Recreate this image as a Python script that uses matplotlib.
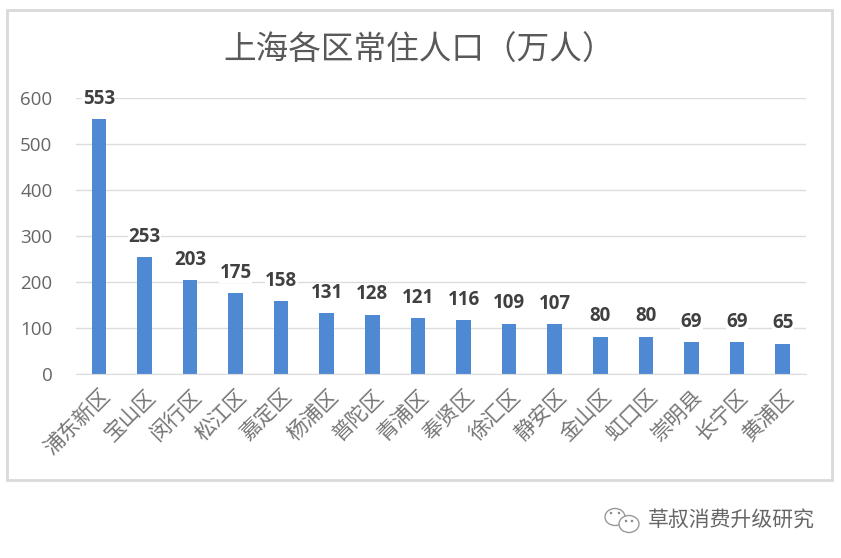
import matplotlib.pyplot as plt
from matplotlib.patches import Ellipse, Rectangle

plt.rcParams["font.family"] = ["Noto Sans CJK SC", "DejaVu Sans"]

W, H = 841, 558

districts = ["浦东新区", "宝山区", "闵行区", "松江区", "嘉定区", "杨浦区", "普陀区", "青浦区",
             "奉贤区", "徐汇区", "静安区", "金山区", "虹口区", "崇明县", "长宁区", "黄浦区"]
population = [553, 253, 203, 175, 158, 131, 128, 121, 116, 109, 107, 80, 80, 69, 69, 65]
y_ticks = [0, 100, 200, 300, 400, 500, 600]


def px_x(x):
    return x / W


def px_y(y):
    return 1 - y / H


def main():
    fig = plt.figure(figsize=(W / 100, H / 100), dpi=100)

    # chart frame, kept behind the axes
    fig.add_artist(Rectangle((px_x(6.5), px_y(480)), 825 / W, 470 / H, transform=fig.transFigure,
                             facecolor="white", edgecolor="#d9d9d9", linewidth=2, zorder=-1))

    ax = fig.add_axes([px_x(76), px_y(373.7), 729.5 / W, 276 / H])
    ax.patch.set_alpha(0)
    ax.bar(range(len(districts)), population, width=0.32, color="#5089d3", zorder=2)
    ax.set_xlim(-0.5, len(districts) - 0.5)
    ax.set_ylim(0, 600)
    ax.set_yticks(y_ticks)
    ax.set_yticklabels(y_ticks, family="Open Sans")
    ax.yaxis.grid(True, color="#dcdcdc", linewidth=1)
    ax.set_axisbelow(True)
    ax.tick_params(axis="y", length=0, pad=17, labelsize=13.5, labelcolor="#666666")
    ax.tick_params(axis="x", length=0, pad=8)
    for side in ["top", "right", "left"]:
        ax.spines[side].set_visible(False)
    ax.spines["bottom"].set_color("#dcdcdc")

    ax.set_xticks(range(len(districts)))
    ax.set_xticklabels(districts, rotation=45, ha="right", va="top", rotation_mode="anchor",
                       fontsize=15, color="#757575")

    for i, v in enumerate(population):
        ax.annotate(str(v), (i, v), xytext=(0, 7.5), textcoords="offset points", ha="center",
                    va="bottom", fontsize=13.5, fontweight="bold", color="#404040",
                    family="Open Sans",
                    bbox=dict(facecolor="white", edgecolor="none", pad=0.3), zorder=3)

    fig.text(px_x(419), px_y(51), "上海各区常住人口（万人）", ha="center", va="center",
             fontsize=23.5, color="#595959")

    # watermark
    fig.text(px_x(648), px_y(520), "草叔消费升级研究", ha="left", va="center", fontsize=15,
             color="#666666")
    for cx, cy, w, h in [(615, 517, 20, 17), (629, 524, 20, 17)]:
        fig.add_artist(Ellipse((px_x(cx), px_y(cy)), w / W, h / H, transform=fig.transFigure,
                               facecolor="white", edgecolor="#999999", linewidth=1))
    for cx, cy in [(611, 513), (619, 513), (626, 521), (632, 521)]:
        fig.add_artist(Ellipse((px_x(cx), px_y(cy)), 2.5 / W, 2.5 / H, transform=fig.transFigure,
                               facecolor="#888888", edgecolor="none"))

    fig.savefig("out.png", dpi=100)


if __name__ == "__main__":
    main()
